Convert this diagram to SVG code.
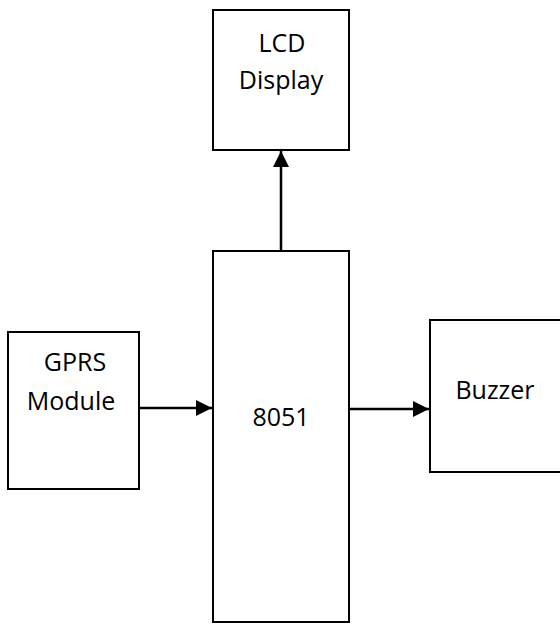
<svg xmlns="http://www.w3.org/2000/svg" width="560" height="625" viewBox="0 0 560 625">
<defs>
<style>
.box{fill:#fff;stroke:#000;stroke-width:2}
.lbl{font-family:"Open Sans","Noto Sans",sans-serif;font-size:25px;fill:#000;text-anchor:middle}
.conn{stroke:#000;stroke-width:2.5;fill:none}
</style>
<marker id="arr" viewBox="0 0 10 10" refX="10" refY="5" markerWidth="6.8" markerHeight="6.4" orient="auto" markerUnits="strokeWidth">
<path d="M0,0 L10,5 L0,10 z" fill="#000"/>
</marker>
</defs>
<rect width="560" height="625" fill="#fff"/>
<g id="lcd">
<rect class="box" x="213" y="10" width="136" height="140"/>
<text class="lbl" x="282" y="52">LCD</text>
<text class="lbl" x="281" y="89">Display</text>
</g>
<g id="mcu">
<rect class="box" x="213" y="251" width="136" height="371"/>
<text class="lbl" x="281" y="426">8051</text>
</g>
<g id="gprs">
<rect class="box" x="8" y="332" width="131" height="157"/>
<text class="lbl" x="75" y="371">GPRS</text>
<text class="lbl" x="71" y="410">Module</text>
</g>
<g id="buzzer">
<rect class="box" x="430" y="320" width="140" height="152"/>
<text class="lbl" x="495" y="399">Buzzer</text>
</g>
<g id="connectors">
<line class="conn" x1="281" y1="251" x2="281" y2="151" marker-end="url(#arr)"/>
<line class="conn" x1="139" y1="408" x2="212" y2="408" marker-end="url(#arr)"/>
<line class="conn" x1="349" y1="409" x2="429" y2="409" marker-end="url(#arr)"/>
</g>
</svg>
